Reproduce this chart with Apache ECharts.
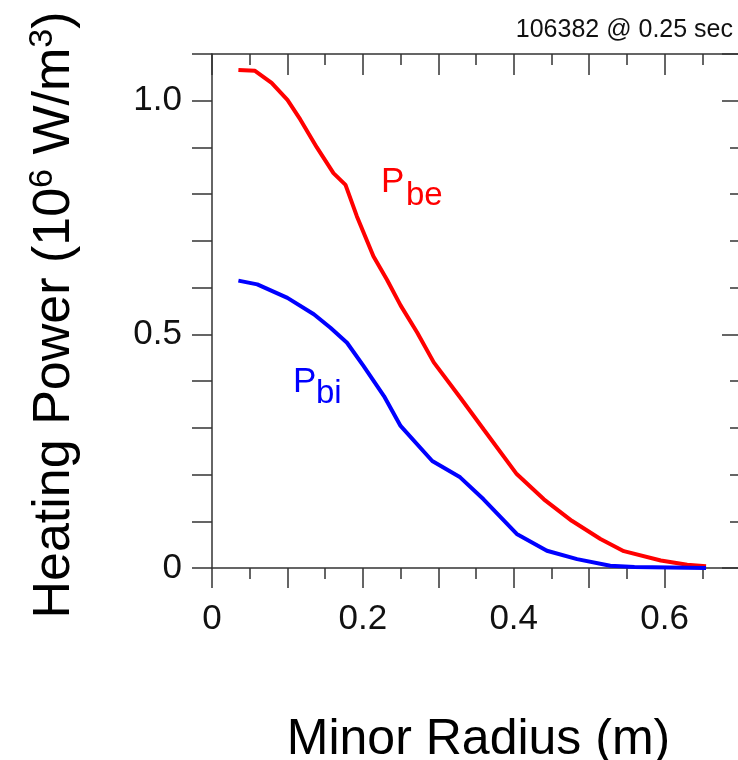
<!DOCTYPE html>
<html>
<head>
<meta charset="utf-8">
<script src="https://cdn.jsdelivr.net/npm/echarts@6/dist/echarts.min.js"></script>
<style>
html,body{margin:0;padding:0;background:#fff;}
#chart{width:738px;height:760px;}
</style>
</head>
<body>
<div id="chart"></div>
<script>
// Data
var beX = [0.035, 0.057, 0.079, 0.100, 0.117, 0.139, 0.161, 0.177, 0.192, 0.214, 0.232, 0.250, 0.272, 0.294, 0.329, 0.360, 0.404, 0.440, 0.477, 0.515, 0.546, 0.595, 0.630, 0.655];
var beY = [1.066, 1.064, 1.038, 1.002, 0.960, 0.900, 0.845, 0.820, 0.753, 0.667, 0.617, 0.562, 0.504, 0.440, 0.365, 0.297, 0.201, 0.147, 0.101, 0.062, 0.036, 0.016, 0.007, 0.004];
var biX = [0.035, 0.060, 0.100, 0.135, 0.157, 0.179, 0.201, 0.228, 0.250, 0.292, 0.329, 0.360, 0.404, 0.444, 0.484, 0.528, 0.560, 0.655];
var biY = [0.615, 0.607, 0.578, 0.543, 0.514, 0.482, 0.432, 0.368, 0.304, 0.229, 0.194, 0.147, 0.073, 0.037, 0.019, 0.005, 0.002, 0.000];
var xTickLabels = ['0', '0.2', '0.4', '0.6'];
var yTickLabels = ['0', '0.5', '1.0'];
var subtitleText = '106382 @ 0.25 sec';
var xTitle = 'Minor Radius (m)';

var FONT = 'Liberation Sans';
var AX = '#333';

function pairs(xs, ys) { return xs.map(function (x, i) { return [x, ys[i]]; }); }
function fmtX(v) {
  for (var i = 0; i < xTickLabels.length; i++) if (Math.abs(parseFloat(xTickLabels[i]) - v) < 1e-6) return xTickLabels[i];
  return '';
}
function fmtY(v) {
  for (var i = 0; i < yTickLabels.length; i++) if (Math.abs(parseFloat(yTickLabels[i]) - v) < 1e-6) return yTickLabels[i];
  return '';
}

var chart = echarts.init(document.getElementById('chart'), null, {renderer: 'canvas'});
var lineStyleAx = {color: AX, width: 1.5};
chart.setOption({
  animation: false,
  backgroundColor: '#fff',
  title: {
    text: subtitleText, right: 0, top: 13,
    textStyle: {fontFamily: FONT, fontSize: 25, fontWeight: 'normal', color: '#111'}
  },
  grid: {left: 212, top: 54, width: 528, height: 514, containLabel: false, outerBoundsMode: 'none'},
  xAxis: [{
    type: 'value', min: 0, max: 0.7, interval: 0.1, position: 'bottom',
    axisLine: {show: true, onZero: false, lineStyle: lineStyleAx},
    axisTick: {show: true, inside: false, length: 20, lineStyle: lineStyleAx},
    minorTick: {show: true, splitNumber: 2, length: 11, lineStyle: lineStyleAx},
    splitLine: {show: false},
    axisLabel: {show: true, interval: 0, margin: 34, formatter: fmtX, fontFamily: FONT, fontSize: 35, color: '#111'},
    name: xTitle, nameLocation: 'middle', nameGap: 147,
    nameTextStyle: {fontFamily: FONT, fontSize: 50, color: '#000', padding: [0, 0, 0, 5]}
  }, {
    type: 'value', min: 0, max: 0.7, interval: 0.1, position: 'top',
    axisLine: {show: true, onZero: false, lineStyle: lineStyleAx},
    axisTick: {show: true, inside: true, length: 21, lineStyle: lineStyleAx},
    minorTick: {show: true, splitNumber: 2, length: 11, lineStyle: lineStyleAx},
    splitLine: {show: false},
    axisLabel: {show: false}
  }],
  yAxis: [{
    type: 'value', min: 0, max: 1.1, interval: 0.1, position: 'left',
    axisLine: {show: true, onZero: false, lineStyle: lineStyleAx},
    axisTick: {show: true, inside: false, length: 20, lineStyle: lineStyleAx},
    splitLine: {show: false},
    axisLabel: {show: true, interval: 0, margin: 30, formatter: fmtY, fontFamily: FONT, fontSize: 35, color: '#111'},
    name: 'Heating Power (10{sup|6} W/m{sup|3})', nameLocation: 'middle', nameRotate: 90, nameGap: 128,
    nameTextStyle: {
      fontFamily: FONT, fontSize: 52, color: '#000', lineHeight: 58, padding: [0, 8, 0, 0],
      rich: {sup: {fontFamily: FONT, fontSize: 34, lineHeight: 20, verticalAlign: 'top', color: '#000'}}
    }
  }, {
    type: 'value', min: 0, max: 1.1, interval: 0.1, position: 'right',
    axisLine: {show: true, onZero: false, lineStyle: lineStyleAx},
    axisTick: {show: true, inside: true, length: 10, lineStyle: lineStyleAx},
    splitLine: {show: false},
    axisLabel: {show: false}
  }, {
    type: 'value', min: 0, max: 1.1, interval: 0.5, position: 'right',
    axisLine: {show: false, onZero: false},
    axisTick: {show: true, inside: true, length: 18, lineStyle: lineStyleAx},
    splitLine: {show: false},
    axisLabel: {show: false}
  }],
  series: [{
    name: 'Pbe', type: 'line', xAxisIndex: 0, yAxisIndex: 0,
    data: pairs(beX, beY), showSymbol: false, symbol: 'none',
    lineStyle: {color: '#ff0000', width: 4}, itemStyle: {color: '#ff0000'}
  }, {
    name: 'Pbi', type: 'line', xAxisIndex: 0, yAxisIndex: 0,
    data: pairs(biX, biY), showSymbol: false, symbol: 'none',
    lineStyle: {color: '#0000ff', width: 4}, itemStyle: {color: '#0000ff'}
  }],
  graphic: [
    {type: 'text', left: 381, top: 165, style: {text: 'P', fontFamily: FONT, fontSize: 35, fill: '#ff0000'}},
    {type: 'text', left: 406, top: 179, style: {text: 'be', fontFamily: FONT, fontSize: 33, fill: '#ff0000'}},
    {type: 'text', left: 293, top: 365, style: {text: 'P', fontFamily: FONT, fontSize: 35, fill: '#0000ff'}},
    {type: 'text', left: 316, top: 377, style: {text: 'bi', fontFamily: FONT, fontSize: 33, fill: '#0000ff'}}
  ]
});
</script>
</body>
</html>
